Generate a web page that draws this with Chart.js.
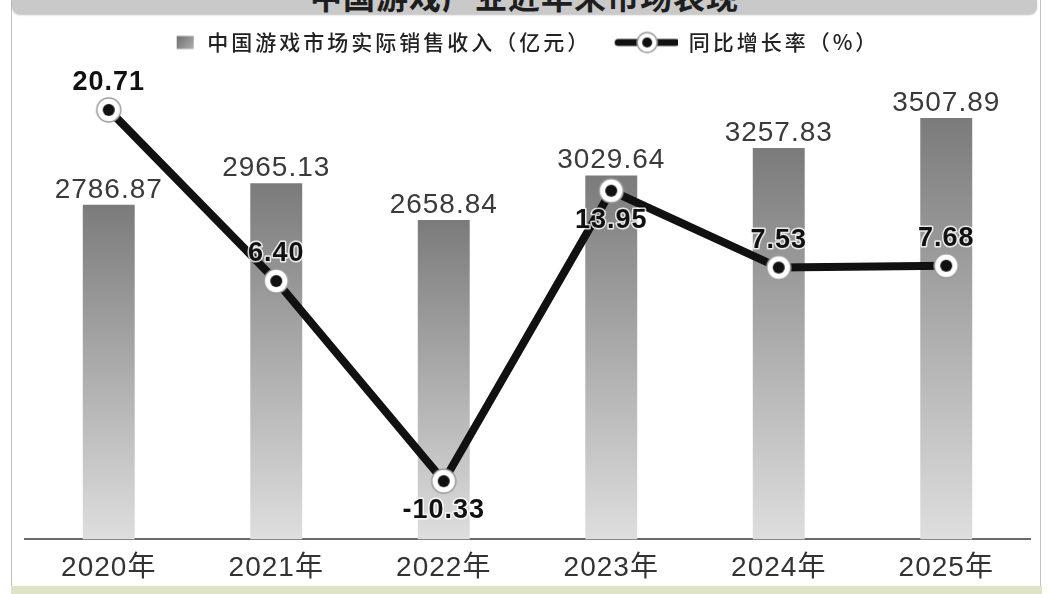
<!DOCTYPE html>
<html>
<head>
<meta charset="utf-8">
<script src="https://cdn.jsdelivr.net/npm/chart.js@4.4.1/dist/chart.umd.min.js"></script>
<style>
html,body{margin:0;padding:0;background:#fff;}
#wrap{position:relative;width:1053px;height:594px;overflow:hidden;background:#fff;}
#lb{position:absolute;left:11px;top:0;width:1px;height:586px;background:#c4c4c4;}
#rb{position:absolute;left:1040px;top:0;width:1px;height:586px;background:#c4c4c4;}
#band{position:absolute;left:11px;top:586px;width:1031px;height:8px;background:#e1e3c9;}
#titlebar{position:absolute;left:12px;top:0;width:1025px;height:14px;background:#c9c9c9;border-radius:0 0 8px 8px;overflow:hidden;box-shadow:0 1px 2px rgba(0,0,0,.25);}
#title{position:absolute;left:0;right:0;bottom:2px;text-align:center;font:bold 32px/34px "Noto Sans CJK SC",sans-serif;color:#1e1e1e;letter-spacing:1px;white-space:nowrap;}
#c{position:absolute;left:0;top:0;width:1053px;height:594px;}
</style>
</head>
<body>
<div id="wrap">
  <div id="lb"></div>
  <div id="rb"></div>
  <div id="band"></div>
  <div id="titlebar"><div id="title">中国游戏产业近年来市场表现</div></div>
  <canvas id="c" width="1053" height="594"></canvas>
</div>
<script>
// ---- data ----
const categories = ['2020年', '2021年', '2022年', '2023年', '2024年', '2025年'];
const revenue = [2786.87, 2965.13, 2658.84, 3029.64, 3257.83, 3507.89];
const growth = [20.71, 6.40, -10.33, 13.95, 7.53, 7.68];
const revenueLabel = '中国游戏市场实际销售收入（亿元）';
const growthLabel = '同比增长率（%）';
const growthLabelSide = ['above', 'above', 'below', 'below', 'above', 'above'];

// ---- icons ----
function makeMarker(r, dot) {
  const s = Math.ceil(r * 2 + 4);
  const c = document.createElement('canvas');
  c.width = s; c.height = s;
  const g = c.getContext('2d');
  g.beginPath(); g.arc(s / 2, s / 2, r, 0, Math.PI * 2);
  g.fillStyle = '#ffffff'; g.fill();
  g.lineWidth = 1.5; g.strokeStyle = '#9a9a9a'; g.stroke();
  g.beginPath(); g.arc(s / 2, s / 2, dot, 0, Math.PI * 2);
  g.fillStyle = '#111111'; g.fill();
  return c;
}
const ICON_W = 85;
function makeBarIcon() {
  const c = document.createElement('canvas');
  c.width = ICON_W; c.height = 22;
  const g = c.getContext('2d');
  const grd = g.createLinearGradient(65, 4, 82, 18);
  grd.addColorStop(0, '#6e6e6e'); grd.addColorStop(1, '#b0b0b0');
  g.fillStyle = grd;
  g.fillRect(65, 4.5, 17, 13);
  return c;
}
function makeLineIcon() {
  const c = document.createElement('canvas');
  c.width = ICON_W; c.height = 24;
  const g = c.getContext('2d');
  g.strokeStyle = '#111111'; g.lineWidth = 7; g.lineCap = 'round';
  g.beginPath(); g.moveTo(25, 12); g.lineTo(83, 12); g.stroke();
  const cx = 54, cy = 12;
  g.beginPath(); g.arc(cx, cy, 10, 0, Math.PI * 2);
  g.fillStyle = '#fff'; g.fill(); g.lineWidth = 1.5; g.strokeStyle = '#9a9a9a'; g.stroke();
  g.beginPath(); g.arc(cx, cy, 5, 0, Math.PI * 2); g.fillStyle = '#111'; g.fill();
  return c;
}
const markerImg = makeMarker(12, 6);
const barIcon = makeBarIcon();
const lineIcon = makeLineIcon();

function fmt(v) { return v.toFixed(2); }

// ---- plugins ----
const LEGEND_SPACING = '3px';
const spacingPlugin = {
  id: 'spacingPlugin',
  beforeLayout(chart) {
    const lg = chart.legend;
    if (lg && !lg._lsWrapped) {
      lg._lsWrapped = true;
      const fit = lg.fit, draw = lg.draw;
      lg.fit = function () { const c = this.ctx; c.save(); c.letterSpacing = LEGEND_SPACING; fit.apply(this, arguments); c.restore(); };
      lg.draw = function () { const c = this.ctx; c.save(); c.letterSpacing = LEGEND_SPACING; draw.apply(this, arguments); c.restore(); };
    }
  },
  afterLayout(chart, args, opts) {
    if (chart.legend) { chart.legend.left += opts.shift; chart.legend.right += opts.shift; }
  },
  beforeDraw(chart) { chart.ctx.letterSpacing = '1px'; }
};

const valueLabels = {
  id: 'valueLabels',
  afterDatasetsDraw(chart) {
    const ctx = chart.ctx;
    ctx.save();
    ctx.letterSpacing = '1px';
    ctx.textAlign = 'center';
    ctx.textBaseline = 'alphabetic';
    const barMeta = chart.getDatasetMeta(0);
    ctx.font = '28px "Liberation Sans", Arial, sans-serif';
    ctx.fillStyle = '#3a3a3a';
    barMeta.data.forEach((el, i) => { ctx.fillText(fmt(revenue[i]), el.x, el.y - 7); });
    const lineMeta = chart.getDatasetMeta(1);
    ctx.font = 'bold 27px "Liberation Sans", Arial, sans-serif';
    ctx.lineJoin = 'round';
    lineMeta.data.forEach((el, i) => {
      const y = growthLabelSide[i] === 'below' ? el.y + 37 : el.y - 20;
      const t = fmt(growth[i]);
      ctx.lineWidth = 3; ctx.strokeStyle = 'rgba(255,255,255,0.8)';
      ctx.strokeText(t, el.x, y);
      ctx.fillStyle = '#111';
      ctx.fillText(t, el.x, y);
    });
    ctx.restore();
  }
};

function barGradient(c) {
  const ch = c.chart;
  const ys = ch.scales && ch.scales.y;
  if (!ys || c.type !== 'data' || !isFinite(ys.top)) return '#9a9a9a';
  const top = ys.getPixelForValue(c.raw);
  const bot = ys.getPixelForValue(0);
  if (!isFinite(top) || !isFinite(bot)) return '#9a9a9a';
  const g = ch.ctx.createLinearGradient(0, top, 0, bot);
  g.addColorStop(0, '#7b7b7b');
  g.addColorStop(1, '#dedede');
  return g;
}

new Chart(document.getElementById('c'), {
  type: 'bar',
  data: {
    labels: categories,
    datasets: [
      {
        type: 'bar',
        label: revenueLabel,
        data: revenue,
        yAxisID: 'y',
        backgroundColor: barGradient,
        borderWidth: 0,
        categoryPercentage: 1,
        barPercentage: 0.31,
        order: 2
      },
      {
        type: 'line',
        label: growthLabel,
        data: growth,
        yAxisID: 'y1',
        borderColor: '#111111',
        borderWidth: 8,
        tension: 0,
        fill: false,
        pointStyle: markerImg,
        pointRadius: 12,
        pointHoverRadius: 12,
        order: 1
      }
    ]
  },
  options: {
    responsive: false,
    animation: false,
    events: [],
    layout: { padding: { top: 30, left: 25, right: 23, bottom: -3 } },
    scales: {
      x: {
        grid: { display: false, drawTicks: false },
        border: { display: true, color: '#6a6a6a', width: 2 },
        ticks: {
          color: '#333333',
          padding: 12,
          maxRotation: 0,
          autoSkip: false,
          font: { family: '"Liberation Sans", "Noto Sans CJK SC", sans-serif', size: 28 }
        }
      },
      y: { display: false, min: 0, max: 3966 },
      y1: { display: false, position: 'right', min: -15.2, max: 24.63 }
    },
    plugins: {
      tooltip: { enabled: false },
      spacingPlugin: { shift: -32 },
      legend: {
        display: true,
        position: 'top',
        labels: {
          usePointStyle: true,
          pointStyleWidth: ICON_W,
          padding: 2,
          color: '#222222',
          font: { family: '"Noto Sans CJK SC", sans-serif', size: 21, weight: '500' },
          generateLabels: () => [
            { text: revenueLabel, pointStyle: barIcon, fillStyle: '#888', strokeStyle: '#888', lineWidth: 0, hidden: false, datasetIndex: 0, fontColor: '#222222' },
            { text: growthLabel, pointStyle: lineIcon, fillStyle: '#111', strokeStyle: '#111', lineWidth: 0, hidden: false, datasetIndex: 1, fontColor: '#222222' }
          ]
        }
      }
    }
  },
  plugins: [spacingPlugin, valueLabels]
});
</script>
</body>
</html>
